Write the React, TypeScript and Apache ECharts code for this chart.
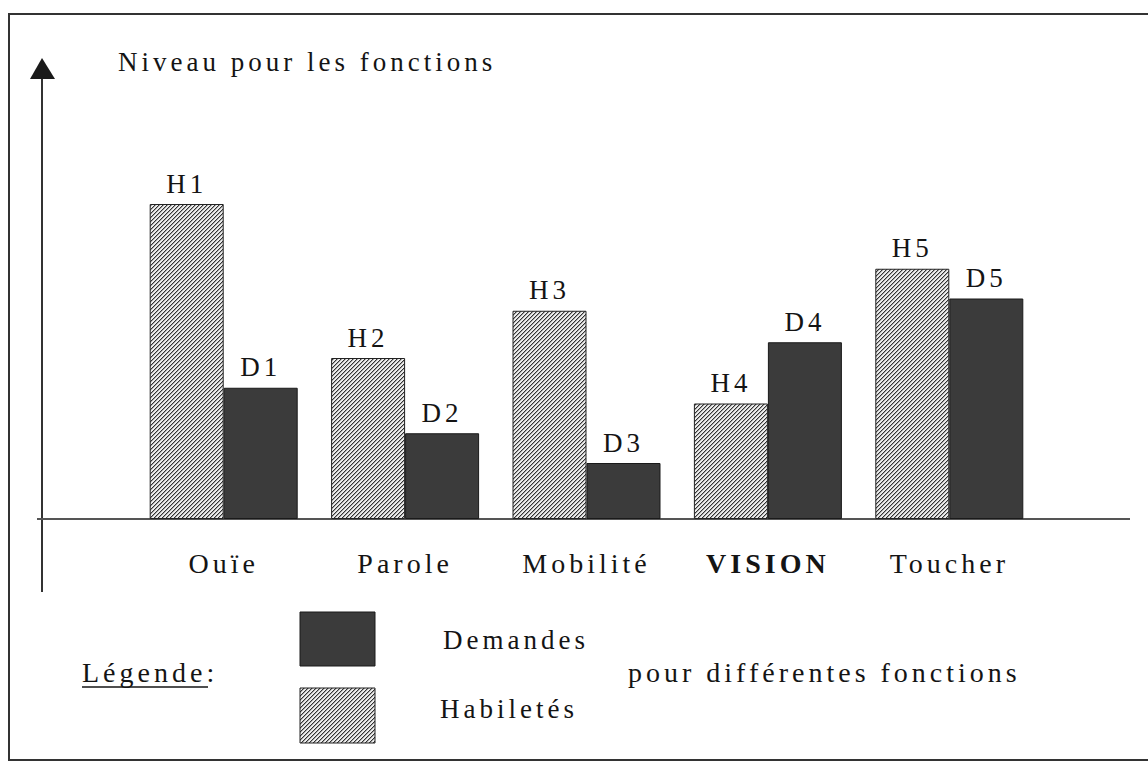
import React, { useEffect, useRef } from "react";
import * as echarts from "echarts";

const categories = ["Ouïe", "Parole", "Mobilité", "VISION", "Toucher"];
const habiletes = [9.0, 4.6, 5.95, 3.3, 7.15];
const demandes = [3.75, 2.45, 1.6, 5.05, 6.3];
const habLabels = ["H1", "H2", "H3", "H4", "H5"];
const demLabels = ["D1", "D2", "D3", "D4", "D5"];
const yTitle = "Niveau pour les fonctions";
const legendTitle = "Légende:";
const legendDemandes = "Demandes";
const legendHabiletes = "Habiletés";
const legendNote = "pour différentes fonctions";

const FONT = "Liberation Serif";
const INK = "#141414";

function makeHatch(): HTMLCanvasElement {
  const c = document.createElement("canvas");
  c.width = 4;
  c.height = 4;
  const ctx = c.getContext("2d")!;
  for (let x = 0; x < 4; x++) {
    for (let y = 0; y < 4; y++) {
      const s = (x + y) % 4;
      ctx.fillStyle = s === 3 ? "#333333" : s === 0 ? "#a6a6a6" : "#ececec";
      ctx.fillRect(x, y, 1, 1);
    }
  }
  return c;
}

export default function App() {
  const ref = useRef<HTMLDivElement>(null);
  useEffect(() => {
    if (!ref.current) return;
    const chart = echarts.init(ref.current, null, { renderer: "svg" });
    const hatch = { image: makeHatch(), repeat: "repeat" } as any;
    const dark = "#3b3b3b";
    const labelStyle = {
      show: true,
      position: "top",
      distance: 7,
      fontFamily: FONT,
      fontSize: 27,
      color: INK,
    };
    const txt = (text: string, x: number, y: number, size: number) => ({
      type: "text",
      silent: true,
      x,
      y,
      style: { text, fontFamily: FONT, fontSize: size, fill: INK, verticalAlign: "middle" },
    });
    chart.setOption({
      animation: false,
      backgroundColor: "#ffffff",
      textStyle: { fontFamily: FONT },
      grid: { left: 133, right: 108, top: 169, bottom: 242 },
      xAxis: {
        type: "category",
        data: categories,
        axisLine: { show: false },
        axisTick: { show: false },
        axisLabel: {
          interval: 0,
          hideOverlap: false,
          margin: 30,
          fontFamily: FONT,
          fontSize: 28,
          color: INK,
          formatter: (v: string) => (v === "VISION" ? "{b|" + v + "}" : v),
          rich: {
            b: { fontFamily: FONT, fontSize: 28, fontWeight: "bold", color: INK },
          },
        },
      },
      yAxis: {
        type: "value",
        min: 0,
        max: 10,
        show: false,
        splitLine: { show: false },
      },
      series: [
        {
          name: legendHabiletes,
          type: "bar",
          data: habiletes,
          barWidth: 74,
          barGap: "0%",
          itemStyle: { color: hatch, borderColor: "#222", borderWidth: 1 },
          label: { ...labelStyle, formatter: (p: any) => habLabels[p.dataIndex] },
          emphasis: { disabled: true },
        },
        {
          name: legendDemandes,
          type: "bar",
          data: demandes,
          barWidth: 74,
          barGap: "0%",
          itemStyle: { color: dark, borderColor: "#1a1a1a", borderWidth: 1 },
          label: { ...labelStyle, formatter: (p: any) => demLabels[p.dataIndex] },
          emphasis: { disabled: true },
        },
      ],
      graphic: [
        {
          type: "rect",
          silent: true,
          shape: { x: 9, y: 14, width: 1160, height: 746 },
          style: { fill: "none", stroke: "#333", lineWidth: 2 },
        },
        {
          type: "line",
          silent: true,
          shape: { x1: 42, y1: 76, x2: 42, y2: 592 },
          style: { stroke: "#333", lineWidth: 2 },
        },
        {
          type: "polygon",
          silent: true,
          shape: { points: [[42, 58], [30, 79], [55, 79]] },
          style: { fill: "#1a1a1a" },
        },
        {
          type: "line",
          silent: true,
          shape: { x1: 37, y1: 519, x2: 1130, y2: 519 },
          style: { stroke: "#555", lineWidth: 2 },
        },
        txt(yTitle, 118, 62, 27),
        txt(legendTitle, 82, 672, 28),
        {
          type: "line",
          silent: true,
          shape: { x1: 82, y1: 687, x2: 208, y2: 687 },
          style: { stroke: INK, lineWidth: 1.5 },
        },
        {
          type: "rect",
          silent: true,
          shape: { x: 300, y: 612, width: 75, height: 54 },
          style: { fill: dark, stroke: "#1a1a1a", lineWidth: 1 },
        },
        {
          type: "rect",
          silent: true,
          shape: { x: 300, y: 688, width: 75, height: 55 },
          style: { fill: hatch, stroke: "#222", lineWidth: 1 },
        },
        txt(legendDemandes, 443, 640, 27),
        txt(legendHabiletes, 440, 709, 27),
        txt(legendNote, 628, 672, 28),
      ],
    });
    return () => chart.dispose();
  }, []);
  return (
    <>
      <style>{".chartwrap text { letter-spacing: 4px; }"}</style>
      <div
        ref={ref}
        className="chartwrap"
        style={{ position: "absolute", left: 0, top: 0, width: 1148, height: 761, background: "#fff" }}
      />
    </>
  );
}
